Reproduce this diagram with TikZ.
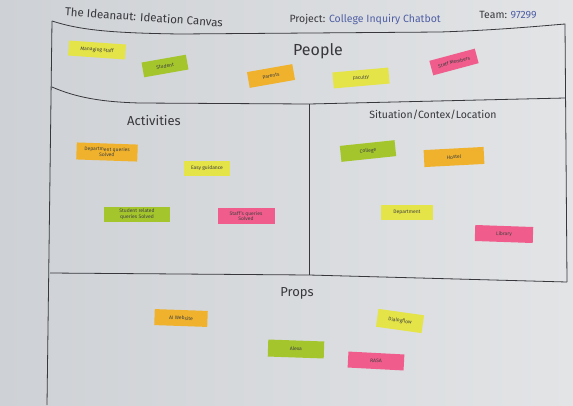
\documentclass[tikz,border=0pt]{standalone}
\usepackage{fontspec}
\setmainfont{Fira Sans}
\definecolor{fondoizq}{RGB}{206,209,213}
\definecolor{fondoder}{RGB}{226,228,230}
\definecolor{trazo}{RGB}{55,55,60}
\definecolor{azul}{RGB}{80,95,165}
\definecolor{amarillo}{RGB}{228,228,72}
\definecolor{verde}{RGB}{164,198,44}
\definecolor{naranja}{RGB}{240,178,44}
\definecolor{rosa}{RGB}{240,92,140}
\begin{document}
\begin{tikzpicture}[x=1pt,y=-1pt,
    linea/.style={trazo, line width=0.8pt},
    titulo/.style={trazo, font=\fontsize{13}{15}\selectfont},
    nota/.style={inner sep=1pt, minimum height=15pt, align=center,
      text=black!75, font=\fontsize{5}{5.5}\selectfont}]
    \useasboundingbox (0,0) rectangle (573,405);
    \shade[left color=fondoizq, right color=fondoder] (0,0) rectangle (573,405);
    % Marco
    \draw[linea] (52,21) .. controls (80,30) and (110,33) .. (180,34) -- (440,32)
        .. controls (500,30) and (540,26) .. (565,24) -- (567,282);
    \draw[linea] (52,21) -- (47,405);
    \draw[linea] (52,87) .. controls (75,97) and (100,102) .. (140,103) -- (309,104) -- (565,98);
    \draw[linea] (309,104) -- (309,275);
    \draw[linea] (50,273) -- (309,275) -- (567,282);
    % Encabezado
    \node[titulo, font=\fontsize{11.5}{13}\selectfont, rotate=-4] (nombre) at (144,17) {The Ideanaut: Ideation Canvas};
    \node[titulo, font=\fontsize{10.5}{12}\selectfont, anchor=west] (proyecto) at (286,20) {Project:};
    \node[titulo, font=\fontsize{10.5}{12}\selectfont, text=azul, anchor=west, inner sep=0pt] (chatbot) at (proyecto.east) {College Inquiry Chatbot};
    \node[titulo, font=\fontsize{10.5}{12}\selectfont] (equipo) at (508,15) {Team: \textcolor{azul}{97299}};
    % Secciones
    \node[titulo, font=\fontsize{16}{18}\selectfont] (gente) at (318,51) {People};
    \node[titulo] (actividades) at (154,121) {Activities};
    \node[titulo, font=\fontsize{10.5}{12}\selectfont] (situacion) at (433,115) {Situation/Contex/Location};
    \node[titulo] (utileria) at (297,293) {Props};
    % Notas: People
    \node[nota, fill=amarillo, minimum width=57pt, rotate=-4] (gestion) at (97,50) {Managing staff};
    \node[nota, fill=verde, minimum width=45pt, rotate=10] (estudiante) at (165,66) {Student};
    \node[nota, fill=naranja, minimum width=46pt, minimum height=16pt, rotate=10] (padres) at (271,76) {Parents};
    \node[nota, fill=amarillo, minimum width=56pt, minimum height=16pt, rotate=5] (facultad) at (361,78) {Faculty};
    \node[nota, fill=rosa, minimum width=47pt, rotate=15] (personal) at (454,62) {Staff Members};
    % Notas: Activities
    \node[nota, fill=naranja, minimum width=61pt, minimum height=17pt, rotate=-2] (deptoconsultas) at (107,152) {Department queries\\Solved};
    \node[nota, fill=amarillo, minimum width=46pt] (guia) at (207,168) {Easy guidance};
    \node[nota, fill=verde, minimum width=66pt] (estconsultas) at (137,214) {Student related\\queries Solved};
    \node[nota, fill=rosa, minimum width=57pt, minimum height=16pt] (persconsultas) at (246,216) {Staff's queries\\Solved};
    % Notas: Situation
    \node[nota, fill=verde, minimum width=55pt, minimum height=16pt, rotate=6] (colegio) at (368,151) {College};
    \node[nota, fill=naranja, minimum width=60pt, minimum height=17pt, rotate=3] (hostal) at (454,157) {Hostel};
    \node[nota, fill=amarillo, minimum width=52pt] (depto) at (407,212) {Department};
    \node[nota, fill=rosa, minimum width=58pt, minimum height=16pt, rotate=-2] (biblioteca) at (504,234) {Library};
    % Notas: Props
    \node[nota, fill=naranja, minimum width=53pt, minimum height=16pt, rotate=-2] (sitio) at (181,318) {AI Website};
    \node[nota, fill=amarillo, minimum width=46pt, minimum height=18pt, rotate=-8] (dialogo) at (400,321) {Dialogflow};
    \node[nota, fill=verde, minimum width=56pt, minimum height=17pt, rotate=-2] (alexa) at (296,349) {Alexa};
    \node[nota, fill=rosa, minimum width=56pt, minimum height=16pt, rotate=-3] (rasa) at (376,361) {RASA};
\end{tikzpicture}
\end{document}
